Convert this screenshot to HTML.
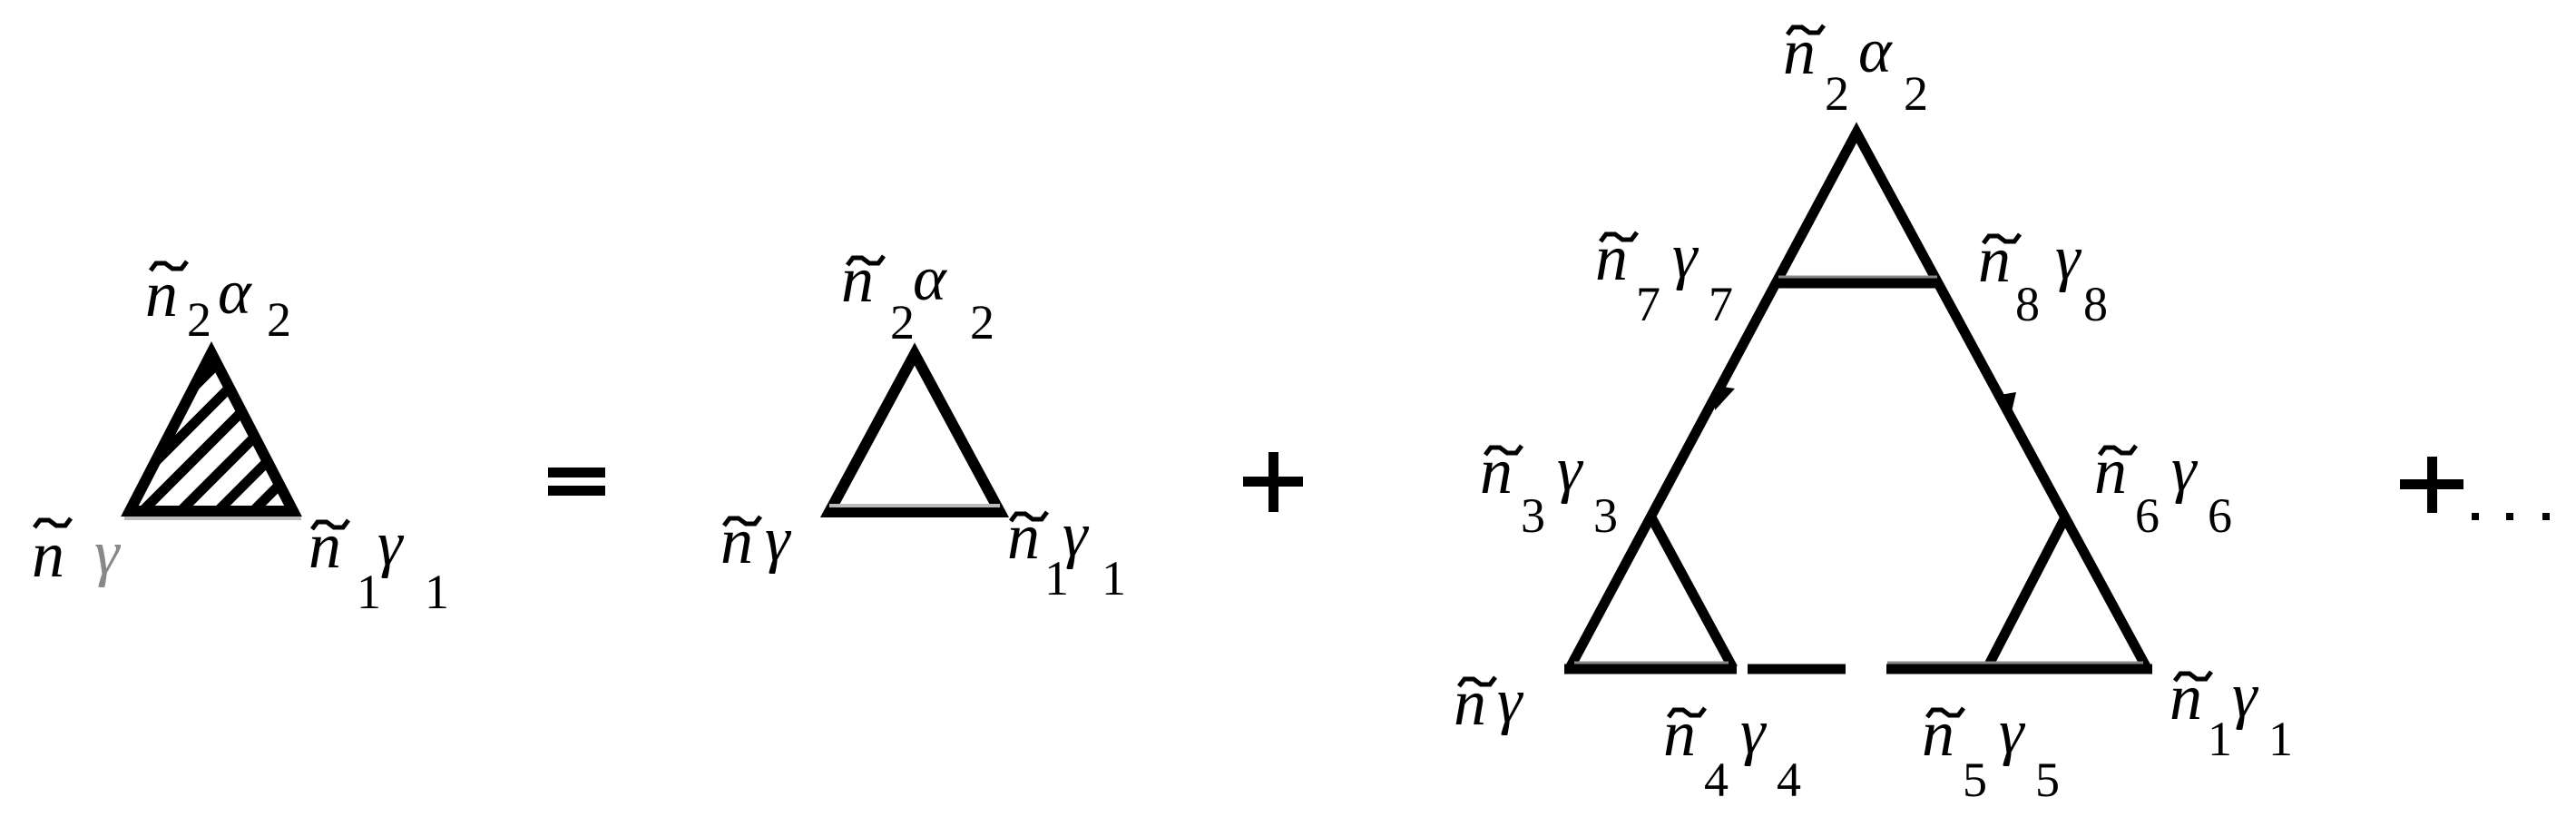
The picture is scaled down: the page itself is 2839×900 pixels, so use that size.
<!DOCTYPE html>
<html><head><meta charset="utf-8"><style>
html,body{margin:0;padding:0;background:#fff;}
svg{display:block}
text{font-family:"Liberation Serif",serif;fill:#000}
.n{font-size:72px;font-style:italic}
.g{font-size:70px;font-style:italic}
.s{font-size:54px}
</style></head><body>
<svg width="2839" height="900" viewBox="0 0 2839 900" xmlns="http://www.w3.org/2000/svg">
<defs>
<clipPath id="c1"><polygon points="233,383 137,570 329,570"/></clipPath>
<path id="t" d="M0,8 L6,0 L16,0 L24,6 L34,6 L40,-2" fill="none" stroke="#000" stroke-width="5"/>
</defs>

<!-- Triangle 1 (hatched) -->
<g clip-path="url(#c1)" stroke="#000" stroke-width="11">
<line x1="70" y1="570" x2="370" y2="270"/>
<line x1="110" y1="570" x2="410" y2="270"/>
<line x1="150" y1="570" x2="450" y2="270"/>
<line x1="192" y1="570" x2="492" y2="270"/>
<line x1="233" y1="570" x2="533" y2="270"/>
<line x1="272" y1="570" x2="572" y2="270"/>
<line x1="312" y1="570" x2="612" y2="270"/>
</g>
<polygon points="233,389 143,563 323,563" fill="none" stroke="#000" stroke-width="12" stroke-linejoin="miter"/>
<line x1="137" y1="571" x2="332" y2="571" stroke="#bbb" stroke-width="4"/>

<!-- labels tri1 -->
<use href="#t" x="166" y="290"/>
<text class="n" x="160" y="348">n</text>
<text class="s" x="206" y="370">2</text>
<text class="g" x="240" y="345">α</text>
<text class="s" x="294" y="370">2</text>

<use href="#t" x="38" y="573"/>
<text class="n" x="35" y="635">n</text>
<text class="g" x="104" y="632" style="fill:#888">γ</text>

<use href="#t" x="344" y="575"/>
<text class="n" x="340" y="625">n</text>
<text class="s" x="393" y="670">1</text>
<text class="g" x="416" y="622">γ</text>
<text class="s" x="468" y="670">1</text>

<!-- = -->
<rect x="604" y="515" width="63" height="11" fill="#000"/>
<rect x="604" y="535" width="63" height="11" fill="#000"/>

<!-- Triangle 2 -->
<polygon points="1008,390 914,564 1102,564" fill="none" stroke="#000" stroke-width="12"/>
<line x1="914" y1="557" x2="1102" y2="557" stroke="#bbb" stroke-width="4"/>

<use href="#t" x="934" y="284"/>
<text class="n" x="927" y="332">n</text>
<text class="s" x="981" y="373">2</text>
<text class="g" x="1006" y="330">α</text>
<text class="s" x="1069" y="373">2</text>

<use href="#t" x="798" y="571"/>
<text class="n" x="794" y="620">n</text>
<text class="g" x="843" y="617">γ</text>

<use href="#t" x="1114" y="566"/>
<text class="n" x="1110" y="615">n</text>
<text class="s" x="1151" y="655">1</text>
<text class="g" x="1171" y="612">γ</text>
<text class="s" x="1214" y="655">1</text>

<!-- + -->
<rect x="1370" y="525" width="66" height="11" fill="#000"/>
<rect x="1398" y="498" width="11" height="66" fill="#000"/>

<!-- Big triangle -->
<g stroke="#000" stroke-width="11" fill="none">
<polyline points="1730,736 2046,146 2366,736"/>
<line x1="1958" y1="312" x2="2137" y2="312"/>
<line x1="1820" y1="570" x2="1910" y2="736"/>
<line x1="2276" y1="570" x2="2190" y2="736"/>
<line x1="1724" y1="737" x2="1914" y2="737"/>
<line x1="1926" y1="737" x2="2034" y2="737"/>
<line x1="2079" y1="737" x2="2372" y2="737"/>
</g>
<line x1="1960" y1="305" x2="2135" y2="305" stroke="#888" stroke-width="3"/>
<line x1="1735" y1="730" x2="1905" y2="730" stroke="#888" stroke-width="3"/>
<line x1="2080" y1="730" x2="2362" y2="730" stroke="#888" stroke-width="3"/>
<!-- arrowheads -->
<polygon points="1890,452 1890,425 1912,428" fill="#000"/>
<polygon points="2216,458 2198,436 2222,432" fill="#000"/>

<!-- big labels -->
<use href="#t" x="1970" y="30"/>
<text class="n" x="1965" y="81">n</text>
<text class="s" x="2011" y="121">2</text>
<text class="g" x="2048" y="79">α</text>
<text class="s" x="2098" y="121">2</text>

<use href="#t" x="1764" y="258"/>
<text class="n" x="1758" y="308">n</text>
<text class="s" x="1803" y="353">7</text>
<text class="g" x="1843" y="305">γ</text>
<text class="s" x="1883" y="353">7</text>

<use href="#t" x="2186" y="260"/>
<text class="n" x="2180" y="310">n</text>
<text class="s" x="2221" y="353">8</text>
<text class="g" x="2265" y="307">γ</text>
<text class="s" x="2296" y="353">8</text>

<use href="#t" x="1637" y="493"/>
<text class="n" x="1631" y="543">n</text>
<text class="s" x="1676" y="586">3</text>
<text class="g" x="1716" y="540">γ</text>
<text class="s" x="1756" y="586">3</text>

<use href="#t" x="2314" y="493"/>
<text class="n" x="2308" y="543">n</text>
<text class="s" x="2353" y="586">6</text>
<text class="g" x="2393" y="540">γ</text>
<text class="s" x="2433" y="586">6</text>

<use href="#t" x="1608" y="748"/>
<text class="n" x="1602" y="798">n</text>
<text class="g" x="1650" y="795">γ</text>

<use href="#t" x="1839" y="782"/>
<text class="n" x="1833" y="832">n</text>
<text class="s" x="1878" y="877">4</text>
<text class="g" x="1918" y="829">γ</text>
<text class="s" x="1958" y="877">4</text>

<use href="#t" x="2124" y="782"/>
<text class="n" x="2118" y="832">n</text>
<text class="s" x="2163" y="877">5</text>
<text class="g" x="2203" y="829">γ</text>
<text class="s" x="2243" y="877">5</text>

<use href="#t" x="2397" y="742"/>
<text class="n" x="2391" y="792">n</text>
<text class="s" x="2433" y="832">1</text>
<text class="g" x="2460" y="789">γ</text>
<text class="s" x="2500" y="832">1</text>

<!-- +... -->
<rect x="2645" y="528" width="70" height="11" fill="#000"/>
<rect x="2675" y="503" width="11" height="62" fill="#000"/>
<rect x="2724" y="565" width="8" height="8" fill="#000"/>
<rect x="2762" y="565" width="8" height="8" fill="#000"/>
<rect x="2802" y="565" width="8" height="8" fill="#000"/>
</svg>
</body></html>
